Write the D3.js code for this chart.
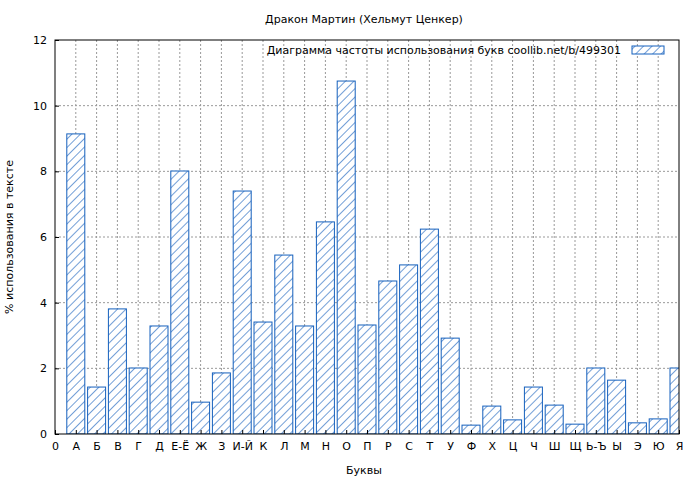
<!DOCTYPE html>
<html><head><meta charset="utf-8">
<script src="https://cdn.jsdelivr.net/npm/d3@7"></script>
<style>body{margin:0;background:#fff}text{font-family:"DejaVu Sans",sans-serif}</style>
</head><body><div id="chart"></div>
<script>
var letters = ["0","А","Б","В","Г","Д","Е-Ё","Ж","З","И-Й","К","Л","М","Н","О","П","Р","С","Т","У","Ф","Х","Ц","Ч","Ш","Щ","Ь-Ъ","Ы","Э","Ю","Я"]
var values = [9.14,1.43,3.81,2.01,3.29,8.01,0.97,1.86,7.40,3.41,5.45,3.29,6.46,10.75,3.32,4.66,5.15,6.24,2.92,0.27,0.85,0.43,1.43,0.88,0.30,2.01,1.64,0.34,0.46,2.01]
var yTicks = [0,2,4,6,8,10,12]

var margin = { top: 40, right: 21, bottom: 46, left: 55 },
    width = 700 - margin.left - margin.right,
    height = 480 - margin.top - margin.bottom

var svg = d3.select("#chart").append("svg").attr("width", 700).attr("height", 480)
var defs = svg.append("defs")
var pat = defs.append("pattern").attr("id", "hatch").attr("patternUnits", "userSpaceOnUse")
    .attr("width", 6).attr("height", 6).attr("patternTransform", "rotate(-45)")
pat.append("rect").attr("width", 6).attr("height", 6).attr("fill", "#fff")
pat.append("line").attr("x1", 0).attr("y1", 0).attr("x2", 6).attr("y2", 0).attr("stroke", "#1560bd").attr("stroke-width", 1.2)
defs.append("clipPath").attr("id", "clip").append("rect").attr("width", width).attr("height", height)

var g = svg.append("g").attr("transform", "translate(" + margin.left + "," + margin.top + ")")
var x = d3.scaleLinear().domain([0, 30]).range([0, width])
var y = d3.scaleLinear().domain([0, 12]).range([height, 0])

// grid
g.selectAll(".gx").data(d3.range(1, 30)).enter().append("line")
    .attr("x1", d => x(d)).attr("x2", d => x(d)).attr("y1", 0).attr("y2", height)
    .attr("stroke", "#999").attr("stroke-dasharray", "2,2")
g.selectAll(".gy").data(yTicks.slice(1, -1)).enter().append("line")
    .attr("x1", 0).attr("x2", width).attr("y1", d => y(d)).attr("y2", d => y(d))
    .attr("stroke", "#999").attr("stroke-dasharray", "2,2")

var bw = 18
g.append("g").attr("clip-path", "url(#clip)").selectAll("rect").data(values).enter().append("rect")
    .attr("x", (d, i) => x(i + 1) - bw / 2).attr("y", d => y(d))
    .attr("width", bw).attr("height", d => height - y(d))
    .attr("fill", "url(#hatch)").attr("stroke", "#1560bd")

g.append("rect").attr("width", width).attr("height", height).attr("fill", "none").attr("stroke", "#000")

g.append("g").attr("transform", "translate(0," + height + ")")
    .call(d3.axisBottom(x).tickValues(d3.range(0, 31)).tickFormat(d => letters[d]).tickSize(-4).tickPadding(8))
    .call(a => a.select(".domain").remove())
g.append("g")
    .call(d3.axisLeft(y).tickValues(yTicks).tickSize(-4).tickPadding(8))
    .call(a => a.select(".domain").remove())
svg.selectAll(".tick text").style("font-size", "11px").attr("fill", "#000")

svg.append("text").attr("x", 364).attr("y", 23).attr("text-anchor", "middle").style("font-size", "11px").text("Дракон Мартин (Хельмут Ценкер)")
svg.append("text").attr("x", 364).attr("y", 474).attr("text-anchor", "middle").style("font-size", "11px").text("Буквы")
svg.append("text").attr("transform", "translate(13,237) rotate(-90)").attr("text-anchor", "middle").style("font-size", "11px").text("% использования в тексте")

// legend
g.append("text").attr("x", width - 58).attr("y", 14).attr("text-anchor", "end").style("font-size", "11px").text("Диаграмма частоты использования букв  coollib.net/b/499301")
g.append("rect").attr("x", width - 47).attr("y", 6).attr("width", 32).attr("height", 8)
    .attr("fill", "url(#hatch)").attr("stroke", "#1560bd")
</script></body></html>
